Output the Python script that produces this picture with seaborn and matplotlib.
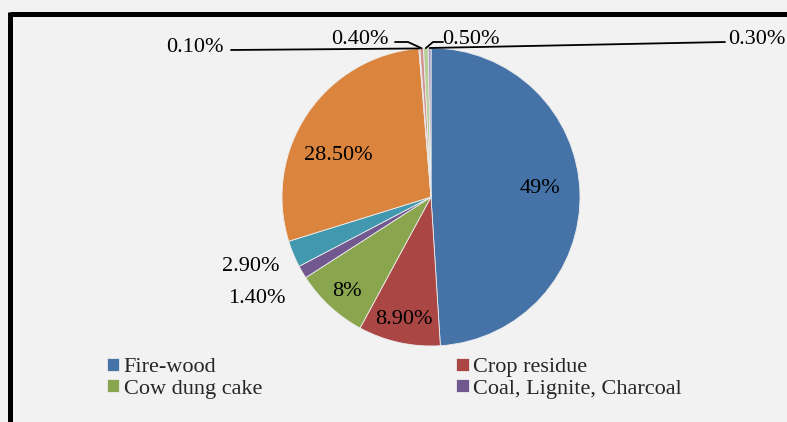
import matplotlib.pyplot as plt
import seaborn as sns
from matplotlib.lines import Line2D
import numpy as np

# Cooking fuel shares (Census 2011 style pie)
fuels = ["Fire-wood", "Crop residue", "Cow dung cake", "Coal, Lignite, Charcoal",
         "Kerosene", "LPG/PNG", "Electricity", "Biogas", "Any other", "No cooking"]
shares = [49, 8.9, 8, 1.4, 2.9, 28.5, 0.1, 0.4, 0.5, 0.3]
pct_labels = ["49%", "8.90%", "8%", "1.40%", "2.90%", "28.50%",
              "0.10%", "0.40%", "0.50%", "0.30%"]
legend_order = [0, 2, 1, 3]  # only four entries fit; shown row by row

colors = ["#4572A7", "#AA4643", "#89A54E", "#71588F", "#4198AF", "#DB843D",
          "#93A9CF", "#D19392", "#B9CD96", "#A99BBD"]
bg = "#F2F2F2"

W, H = 787, 422


def fig_xy(x, y):
    # pixel position (top-left origin) -> figure fraction
    return x / W, 1 - y / H


sns.set_theme(style="white", rc={"figure.facecolor": bg, "axes.facecolor": bg})
plt.rcParams['font.family'] = ['Liberation Serif', 'DejaVu Serif']

fig = plt.figure(figsize=(7.87, 4.22), dpi=100, facecolor=bg)
ax = fig.add_axes([282 / W, 1 - 346 / H, 298 / W, 298 / H])
wedges, _ = ax.pie(shares, colors=colors, startangle=90, counterclock=False,
                   wedgeprops=dict(edgecolor="#EDEDED", linewidth=0.6))
ax.set_xlim(-1, 1)
ax.set_ylim(-1, 1)
ax.set_aspect("equal")
ax.axis("off")

# label centre-x / baseline-y in pixels
label_pos = [(540, 193), (404, 324), (347, 296), (257, 303), (251, 271), (338, 160),
             (195, 52), (360, 44), (471, 44), (757, 44)]
for txt, (x, y) in zip(pct_labels, label_pos):
    fig.text(*fig_xy(x, y), txt, ha="center", va="baseline", fontsize=16, color="black")

# leader lines for the thin slices: label end, elbow -> wedge edge
leaders = {6: [(231, 50), (231, 50)], 7: [(395, 42), (408, 42)],
           8: [(443, 42), (433, 42)], 9: [(725, 42), (725, 42)]}
to_fig = fig.transFigure.inverted()
for i, pts in leaders.items():
    w = wedges[i]
    mid = np.deg2rad((w.theta1 + w.theta2) / 2)
    edge = to_fig.transform(ax.transData.transform((np.cos(mid), np.sin(mid))))
    p = [fig_xy(*pt) for pt in pts] + [tuple(edge)]
    fig.add_artist(Line2D([q[0] for q in p], [q[1] for q in p], color="black",
                          linewidth=1.3, transform=fig.transFigure))

# black frame (top and left edges visible)
fig.add_artist(Line2D([9.5 / W, 1], [1 - 14 / H, 1 - 14 / H], color="black",
                      linewidth=3.6, transform=fig.transFigure, solid_capstyle="butt"))
fig.add_artist(Line2D([9.5 / W, 9.5 / W], [1 - 12 / H, 0], color="black",
                      linewidth=3.6, transform=fig.transFigure, solid_capstyle="butt"))

fig.legend(handles=[wedges[i] for i in legend_order],
           labels=[fuels[i] for i in legend_order], ncol=2,
           loc="upper left", bbox_to_anchor=fig_xy(107, 358), frameon=False,
           fontsize=16, handlelength=0.55, handleheight=0.5, handletextpad=0.2,
           columnspacing=8.75, labelspacing=0.1, borderpad=0, borderaxespad=0)

fig.savefig("out.png", dpi=100, facecolor=bg)
